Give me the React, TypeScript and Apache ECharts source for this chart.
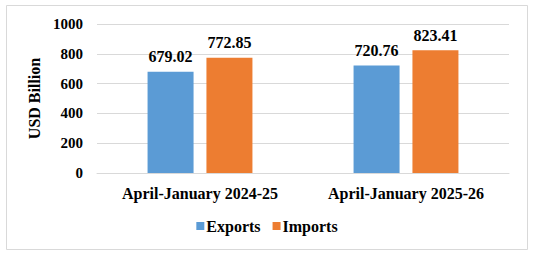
import React, { useEffect, useRef } from "react";
import * as echarts from "echarts";

const categories = ["April-January 2024-25", "April-January 2025-26"];
const exportsValues = [679.02, 720.76];
const importsValues = [772.85, 823.41];
const seriesNames = ["Exports", "Imports"];

const FONT = "Liberation Serif";

export default function App() {
  const ref = useRef<HTMLDivElement>(null);
  useEffect(() => {
    if (!ref.current) return;
    const chart = echarts.init(ref.current, null, { renderer: "svg" });
    const labelStyle = {
      show: true,
      position: "top" as const,
      distance: 7,
      fontFamily: FONT,
      fontWeight: "bold" as const,
      fontSize: 16,
      color: "#000",
      formatter: (p: any) => Number(p.value).toFixed(2),
    };
    chart.setOption({
      animation: false,
      backgroundColor: "#fff",
      textStyle: { fontFamily: FONT },
      graphic: [
        {
          type: "rect",
          shape: { x: 6.5, y: 5.5, width: 521, height: 244 },
          style: { fill: "none", stroke: "#d9d9d9", lineWidth: 1 },
          silent: true,
        },
      ],
      grid: { left: 97, right: 25, top: 24, bottom: 83 },
      legend: {
        data: seriesNames,
        bottom: 17,
        left: "center",
        itemWidth: 8,
        itemHeight: 8,
        itemGap: 12,
        icon: "rect",
        textStyle: {
          fontFamily: FONT,
          fontWeight: "bold",
          fontSize: 16,
          color: "#000",
          padding: [0, 0, 0, -3],
        },
      },
      xAxis: {
        type: "category",
        data: categories,
        axisLine: { lineStyle: { color: "#d9d9d9" } },
        axisTick: { show: false },
        axisLabel: {
          fontFamily: FONT,
          fontWeight: "bold",
          fontSize: 16,
          color: "#000",
          margin: 12,
        },
      },
      yAxis: {
        type: "value",
        min: 0,
        max: 1000,
        interval: 200,
        name: "USD Billion",
        nameLocation: "middle",
        nameGap: 50,
        nameRotate: 90,
        nameTextStyle: {
          fontFamily: FONT,
          fontWeight: "bold",
          fontSize: 16,
          color: "#000",
        },
        axisLine: { show: false },
        axisTick: { show: false },
        splitLine: { lineStyle: { color: "#d9d9d9" } },
        axisLabel: {
          fontFamily: FONT,
          fontWeight: "bold",
          fontSize: 15,
          color: "#000",
          margin: 14,
          formatter: (v: number) => String(v),
        },
      },
      series: [
        {
          name: seriesNames[0],
          type: "bar",
          data: exportsValues,
          barWidth: 46,
          barGap: "28%",
          itemStyle: { color: "#5B9BD5" },
          label: labelStyle,
        },
        {
          name: seriesNames[1],
          type: "bar",
          data: importsValues,
          barWidth: 46,
          barGap: "28%",
          itemStyle: { color: "#ED7D31" },
          label: labelStyle,
        },
      ],
    });
    return () => chart.dispose();
  }, []);
  return (
    <div
      ref={ref}
      style={{ position: "absolute", left: 0, top: 0, width: 534, height: 256 }}
    />
  );
}
